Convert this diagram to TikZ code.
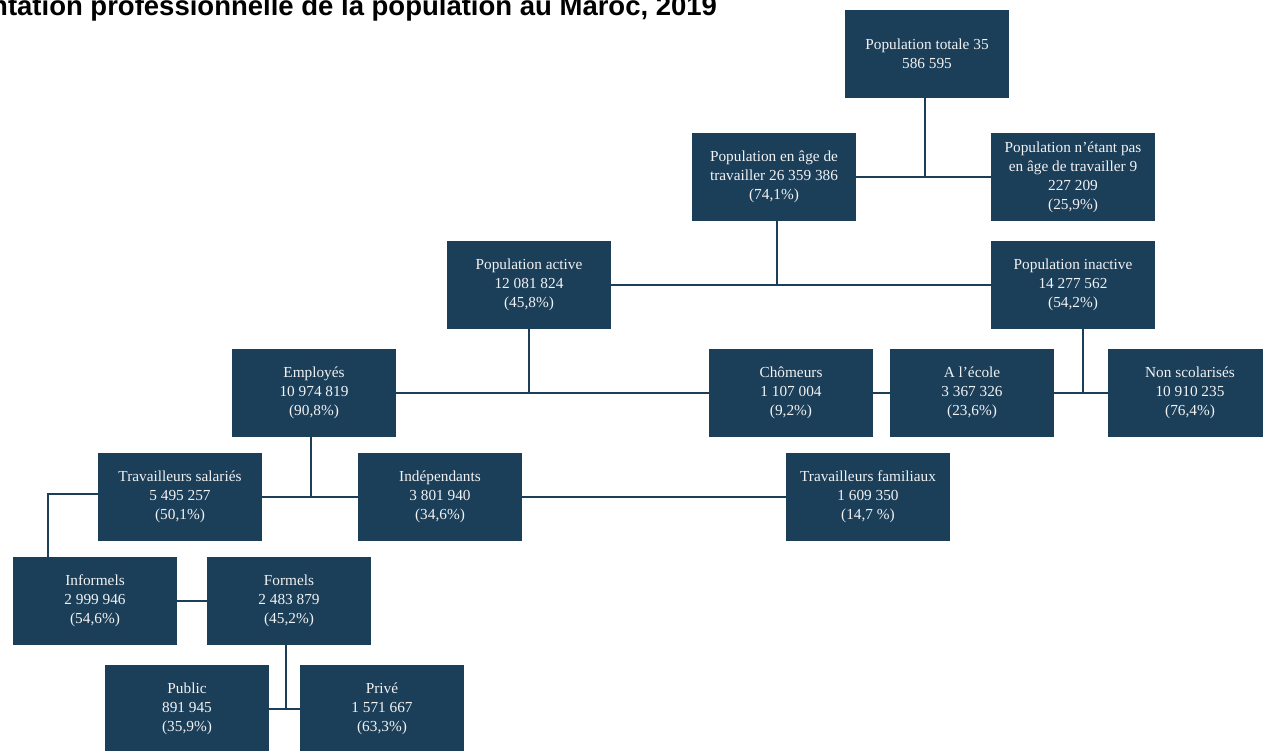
\documentclass[tikz,border=0pt]{standalone}
\usepackage{fontspec}
\setmainfont{Liberation Serif}
\newfontfamily\titlefont{Liberation Sans}
\definecolor{navy}{HTML}{1B3E59}
\definecolor{boxtext}{HTML}{F2F2F2}
\tikzset{
  box/.style={rectangle, fill=navy, text=boxtext, minimum width=164pt, minimum height=88pt,
    inner sep=0pt, align=center, font=\fontsize{15.3}{19}\selectfont},
  link/.style={draw=navy, line width=2.5pt},
}
\begin{document}
\begin{tikzpicture}[x=1pt,y=-1pt]
\useasboundingbox (0,0) rectangle (1263,750);
\clip (0,0) rectangle (1263,750);
\fill[white] (0,0) rectangle (1263,750);
\node[anchor=base west, inner sep=0pt, font=\titlefont\bfseries\fontsize{27.5}{30}\selectfont] (title) at (-9,15) {ntation professionnelle de la population au Maroc, 2019};

\node[box] (tot) at (927,54) {Population totale 35\\586 595};
\node[box] (age) at (774,177) {Population en âge de\\travailler 26 359 386\\(74,1\%)};
\node[box] (nage) at (1073,177) {Population n’étant pas\\en âge de travailler 9\\227 209\\(25,9\%)};
\node[box] (act) at (529,285) {Population active\\12 081 824\\(45,8\%)};
\node[box] (inact) at (1073,285) {Population inactive\\14 277 562\\(54,2\%)};
\node[box] (emp) at (314,393) {Employés\\10 974 819\\(90,8\%)};
\node[box] (cho) at (791,393) {Chômeurs\\1 107 004\\(9,2\%)};
\node[box] (eco) at (972,393) {A l’école\\3 367 326\\(23,6\%)};
\node[box] (nsc) at (1190,393) {Non scolarisés\\10 910 235\\(76,4\%)};
\node[box] (sal) at (180,497) {Travailleurs salariés\\5 495 257\\(50,1\%)};
\node[box] (ind) at (440,497) {Indépendants\\3 801 940\\(34,6\%)};
\node[box] (fam) at (868,497) {Travailleurs familiaux\\1 609 350\\(14,7 \%)};
\node[box] (inf) at (95,601) {Informels\\2 999 946\\(54,6\%)};
\node[box] (form) at (289,601) {Formels\\2 483 879\\(45,2\%)};
\node[box] (pub) at (187,709) {Public\\891 945\\(35,9\%)};
\node[box] (priv) at (382,709) {Privé\\1 571 667\\(63,3\%)};

\coordinate (j1) at ([xshift=-2pt]tot.south |- age.east);
\draw[link] ([xshift=-2pt]tot.south) -- (j1);
\draw[link] (age.east) -- (nage.west);
\coordinate (j2) at ([xshift=3pt]age.south |- act.east);
\draw[link] ([xshift=3pt]age.south) -- (j2);
\draw[link] (act.east) -- (inact.west);
\coordinate (j3) at (act.south |- emp.east);
\draw[link] (act.south) -- (j3);
\draw[link] (emp.east) -- (cho.west);
\draw[link] (cho.east) -- (eco.west);
\draw[link] (eco.east) -- (nsc.west);
\coordinate (j4) at ([xshift=10pt]inact.south |- eco.east);
\draw[link] ([xshift=10pt]inact.south) -- (j4);
\coordinate (j5) at ([xshift=-3pt]emp.south |- sal.east);
\draw[link] ([xshift=-3pt]emp.south) -- (j5);
\draw[link] (sal.east) -- (ind.west);
\draw[link] (ind.east) -- (fam.west);
\coordinate (j6) at ([xshift=-47pt,yshift=3pt]sal.west -| inf.north);
\draw[link] ([yshift=3pt]sal.west) -- (j6) -- ([xshift=-47pt]inf.north);
\draw[link] (inf.east) -- (form.west);
\coordinate (j7) at ([xshift=-3pt]form.south |- pub.east);
\draw[link] ([xshift=-3pt]form.south) -- (j7);
\draw[link] (pub.east) -- (priv.west);
\end{tikzpicture}
\end{document}
